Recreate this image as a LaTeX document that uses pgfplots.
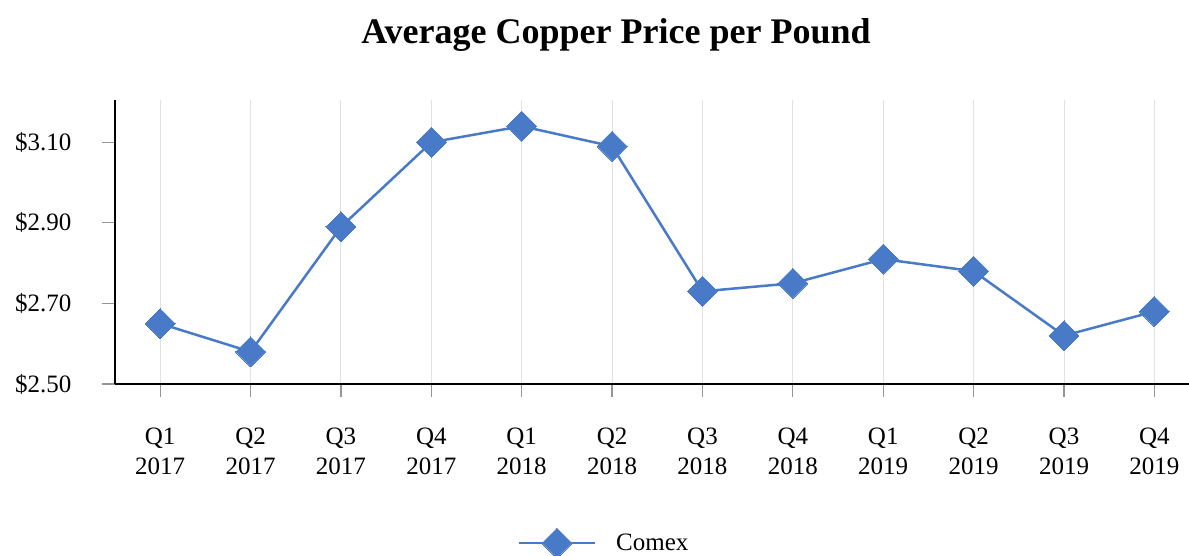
\documentclass[border=0pt]{standalone}
\usepackage{fontspec}
\setmainfont{Liberation Serif}
\usepackage{pgfplots}
\pgfplotsset{compat=1.18}
\definecolor{cublue}{RGB}{72,122,200}
\definecolor{gridgray}{RGB}{225,225,225}
\definecolor{tickgray}{RGB}{150,150,150}
\begin{document}
\begin{tikzpicture}
\path[use as bounding box] (-115pt,-172pt) rectangle (1074pt,384pt);
\begin{axis}[
  at={(0pt,0pt)}, anchor=south west,
  scale only axis, width=1074pt, height=284pt,
  xmin=-0.5, xmax=11.383, ymin=2.5, ymax=3.205,
  axis x line*=bottom, axis y line*=left,
  axis line style={-, black, line width=2.2pt},
  xtick={0,...,11},
  xticklabels={{Q1\\2017},{Q2\\2017},{Q3\\2017},{Q4\\2017},{Q1\\2018},{Q2\\2018},{Q3\\2018},{Q4\\2018},{Q1\\2019},{Q2\\2019},{Q3\\2019},{Q4\\2019}},
  ytick={2.5,2.7,2.9,3.1},
  yticklabels={\$2.50,\$2.70,\$2.90,\$3.10},
  xtick align=outside, ytick align=outside, major tick length=13pt,
  xtick style={draw=tickgray, line width=1.2pt},
  ytick style={draw=tickgray, line width=1.2pt},
  xmajorgrids, grid style={gridgray, line width=1pt},
  ticklabel style={font=\fontsize{25}{30}\selectfont},
  xticklabel style={align=center, yshift=-27pt},
  yticklabel style={xshift=-27pt},
  legend style={at={(0.4554,-0.560)}, anchor=center, draw=none, fill=none,
    font=\fontsize{25}{30}\selectfont, legend cell align=left},
  legend image code/.code={\draw[#1, mark repeat=2, mark phase=2] plot coordinates {(0pt,0pt) (38pt,0pt) (76pt,0pt)};
    \path (94pt,0pt);},
]
\addplot[cublue, line width=2.5pt, mark=square*, mark size=10.6pt, mark options={rotate=45, solid, fill=cublue, draw=cublue, line width=0pt}]
coordinates {(0,2.65) (1,2.58) (2,2.89) (3,3.10) (4,3.14) (5,3.09) (6,2.73) (7,2.75) (8,2.81) (9,2.78) (10,2.62) (11,2.68)};
\addlegendentry{Comex}
\end{axis}
\node[font=\fontsize{36}{40}\selectfont\bfseries] at (501pt,349pt) {Average Copper Price per Pound};
\end{tikzpicture}
\end{document}
